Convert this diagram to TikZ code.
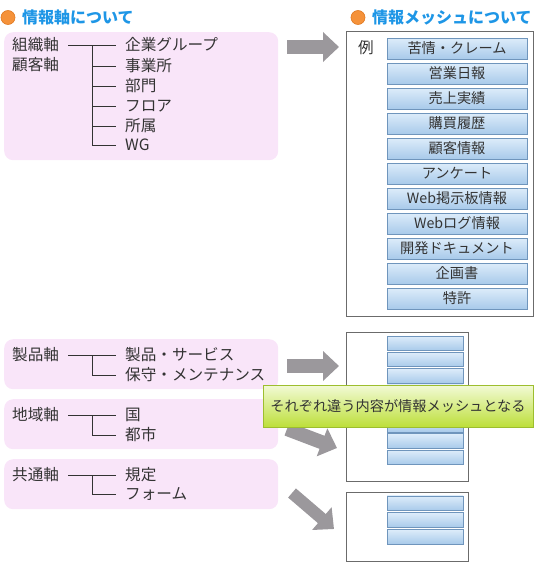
\documentclass[tikz,border=0pt]{standalone}
\usepackage{fontspec}
\setmainfont{Noto Sans CJK JP}
\usetikzlibrary{arrows.meta,positioning}
\definecolor{ttl}{HTML}{1E96E6}
\definecolor{org}{HTML}{F5923A}
\definecolor{orgD}{HTML}{E07A22}
\definecolor{pnk}{HTML}{F9E5F9}
\definecolor{txt}{HTML}{333333}
\definecolor{frm}{HTML}{6B6B6B}
\definecolor{btnT}{HTML}{DDECFA}
\definecolor{btnB}{HTML}{A8CAEA}
\definecolor{btnD}{HTML}{6F95BC}
\definecolor{grnT}{HTML}{F2FAD6}
\definecolor{grnM}{HTML}{D6EC8A}
\definecolor{grnB}{HTML}{BDDF3A}
\definecolor{grnD}{HTML}{9DBE2E}
\definecolor{arr}{HTML}{9B989C}
\tikzset{
  lab/.style={font=\fontsize{15.6}{18}\selectfont, text=txt, inner sep=0pt},
  blab/.style={font=\fontsize{14.2}{16}\selectfont, text=txt},
  head/.style={font=\bfseries\fontsize{16}{18}\selectfont, text=ttl, inner sep=0pt, anchor=west},
  dot/.style={circle, fill=org, draw=orgD, line width=0.6pt, minimum size=14pt, inner sep=0pt},
  grp/.style={fill=pnk, rounded corners=9pt, anchor=north west, minimum width=274pt},
  mesh/.style={draw=frm, line width=1pt, fill=white, anchor=north west},
  tree/.style={draw=txt, line width=0.8pt, shorten >=9pt},
  bigarr/.style={arr, line width=14pt, -{Triangle[length=16pt, width=29pt]}},
}

\begin{document}
\begin{tikzpicture}[x=1pt,y=-1pt,
  item/.style={lab, anchor=west},
  btn/.style={blab, draw=btnD, line width=0.9pt, top color=btnT, bottom color=btnB,
    minimum width=140pt, minimum height=21pt, inner sep=0pt},
  sbtn/.style={draw=btnD, line width=0.9pt, top color=btnT, bottom color=btnB,
    minimum width=76pt, minimum height=14.5pt, inner sep=0pt},
  banner/.style={blab, draw=grnD, line width=0.9pt, top color=grnT, middle color=grnM, bottom color=grnB,
    minimum width=270pt, minimum height=42pt}]

\useasboundingbox (0,0) rectangle (535,570);

% ---- headings ---------------------------------------------------------------
\node[dot] (d1) at (8,17.5) {};
\node[head] (h1) at (22,17) {情報軸について};
\node[dot] (d2) at (358,17.5) {};
\node[head] (h2) at (372,17) {情報メッシュについて};

% ---- axis groups ------------------------------------------------------------
\node[grp, minimum height=128pt] (g1) at (4,32) {};
\node[grp, minimum height=50pt]  (g2) at (4,339) {};
\node[grp, minimum height=50pt]  (g3) at (4,399) {};
\node[grp, minimum height=50pt]  (g4) at (4,459) {};

% organisation / customer
\node[lab, anchor=west] (ax1)  at (12,45) {組織軸};
\node[lab, anchor=west] (ax1b) at (12,65) {顧客軸};
\node[item] (i11) at (125,45)  {企業グループ};
\node[item] (i12) at (125,66)  {事業所};
\node[item] (i13) at (125,86)  {部門};
\node[item] (i14) at (125,106) {フロア};
\node[item] (i15) at (125,126) {所属};
\node[item] (i16) at (125,145) {WG};
\coordinate (j1) at (92,45);
\draw[tree, shorten <=9pt] (ax1.east) -- (i11.west);
\draw[tree] (j1) |- (i12.west);
\draw[tree] (j1) |- (i13.west);
\draw[tree] (j1) |- (i14.west);
\draw[tree] (j1) |- (i15.west);
\draw[tree] (j1) |- (i16.west);

% product
\node[lab, anchor=west] (ax2) at (12,355) {製品軸};
\node[item] (i21) at (125,355) {製品・サービス};
\node[item] (i22) at (125,375) {保守・メンテナンス};
\coordinate (j2) at (92,355);
\draw[tree, shorten <=9pt] (ax2.east) -- (i21.west);
\draw[tree] (j2) |- (i22.west);

% region
\node[lab, anchor=west] (ax3) at (12,415) {地域軸};
\node[item] (i31) at (125,415) {国};
\node[item] (i32) at (125,435) {都市};
\coordinate (j3) at (92,415);
\draw[tree, shorten <=9pt] (ax3.east) -- (i31.west);
\draw[tree] (j3) |- (i32.west);

% common
\node[lab, anchor=west] (ax4) at (12,475) {共通軸};
\node[item] (i41) at (125,475) {規定};
\node[item] (i42) at (125,494) {フォーム};
\coordinate (j4) at (92,475);
\draw[tree, shorten <=9pt] (ax4.east) -- (i41.west);
\draw[tree] (j4) |- (i42.west);

% ---- mesh example -----------------------------------------------------------
\node[mesh, minimum width=187pt, minimum height=285pt] (m1) at (346,31) {};
\node[lab] (ex) at (366,48) {例};
\node[btn] (b1)  at (457,48.5)  {苦情・クレーム};
\node[btn] (b2)  at (457,73.5)  {営業日報};
\node[btn] (b3)  at (457,98.5)  {売上実績};
\node[btn] (b4)  at (457,123.5) {購買履歴};
\node[btn] (b5)  at (457,148.5) {顧客情報};
\node[btn] (b6)  at (457,173.5) {アンケート};
\node[btn] (b7)  at (457,198.5) {Web掲示板情報};
\node[btn] (b8)  at (457,223.5) {Webログ情報};
\node[btn] (b9)  at (457,248.5) {開発ドキュメント};
\node[btn] (b10) at (457,273.5) {企画書};
\node[btn] (b11) at (457,298.5) {特許};

% ---- small meshes -----------------------------------------------------------
\node[mesh, minimum width=122pt, minimum height=149pt] (m2) at (346,332) {};
\node[sbtn] (s1) at (425,343.3) {};
\node[sbtn] (s2) at (425,359.6) {};
\node[sbtn] (s3) at (425,375.9) {};
\node[sbtn] (s4) at (425,392.2) {};
\node[sbtn] (s5) at (425,408.5) {};
\node[sbtn] (s6) at (425,424.8) {};
\node[sbtn] (s7) at (425,441.1) {};
\node[sbtn] (s8) at (425,457.4) {};

\node[mesh, minimum width=122pt, minimum height=69pt] (m3) at (346,492) {};
\node[sbtn] (t1) at (425,503.2) {};
\node[sbtn] (t2) at (425,520.0) {};
\node[sbtn] (t3) at (425,536.8) {};

% ---- arrows -----------------------------------------------------------------
\coordinate (a1s) at (287,47);  \coordinate (a1e) at (339,47);
\coordinate (a2s) at (287,366); \coordinate (a2e) at (339,366);
\coordinate (a3s) at (287,429); \coordinate (a3e) at (337,448);
\coordinate (a4s) at (292,493); \coordinate (a4e) at (334,529);
\draw[bigarr] (a1s) -- (a1e);
\draw[bigarr] (a2s) -- (a2e);
\draw[bigarr] (a3s) -- (a3e);
\draw[bigarr, line width=12pt] (a4s) -- (a4e);

% ---- note -------------------------------------------------------------------
\node[banner] (note) at (398,406) {それぞれ違う内容が情報メッシュとなる};

\end{tikzpicture}
\end{document}
